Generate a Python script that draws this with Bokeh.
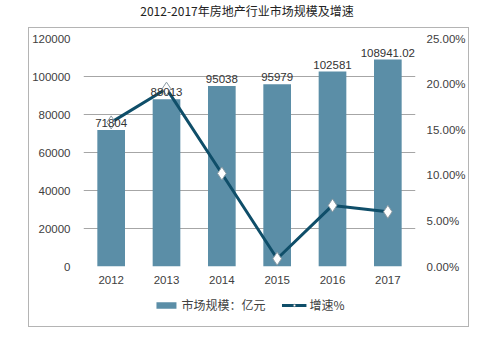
from bokeh.plotting import figure
from bokeh.layouts import column
from bokeh.models import (Range1d, LinearAxis, FixedTicker, NumeralTickFormatter,
                          ColumnDataSource, LabelSet, Legend, LegendItem, Div)
from bokeh.core.properties import value
from bokeh.embed import file_html
from bokeh.resources import INLINE

years = ["2012", "2013", "2014", "2015", "2016", "2017"]
market = [71804, 88013, 95038, 95979, 102581, 108941.02]
market_labels = ["71804", "88013", "95038", "95979", "102581", "108941.02"]
growth = [0.158, 0.195, 0.102, 0.0085, 0.067, 0.060]
left_ticks = [0, 20000, 40000, 60000, 80000, 100000, 120000]
right_ticks = [0.0, 0.05, 0.10, 0.15, 0.20, 0.25]
title_text = "2012-2017年房地产行业市场规模及增速"
bar_name = "市场规模：亿元"
line_name = "增速%"

BAR = "#5b8ea7"
LINE = "#0f4e69"
MK_EDGE = "#8a9aa3"
NUM = "Liberation Sans"
CJK = "Noto Sans CJK SC"
FS = "11.5px"

src = ColumnDataSource(dict(x=years, v=market, lab=market_labels, g=growth))

p = figure(x_range=years, y_range=Range1d(0, 120000), width=439, height=266,
           output_backend="svg", toolbar_location=None,
           min_border_left=53, min_border_right=53, min_border_top=10, min_border_bottom=28)
p.extra_y_ranges = {"pct": Range1d(0, 0.25)}
p.outline_line_color = None
p.xgrid.grid_line_color = None
p.ygrid.grid_line_color = "#a6a6a6"
p.ygrid.grid_line_width = 1

la = p.yaxis[0]
la.ticker = FixedTicker(ticks=left_ticks)
la.formatter = NumeralTickFormatter(format="0")
la.axis_line_color = None
la.major_tick_line_color = None
la.minor_tick_line_color = None
la.major_label_standoff = 7
la.major_label_text_font = NUM
la.major_label_text_font_size = FS
la.major_label_text_color = "#404040"

ra = LinearAxis(y_range_name="pct", ticker=FixedTicker(ticks=right_ticks),
                formatter=NumeralTickFormatter(format="0.00%"))
ra.axis_line_color = None
ra.major_tick_line_color = None
ra.minor_tick_line_color = None
ra.major_label_standoff = 5
ra.major_label_text_font = NUM
ra.major_label_text_font_size = FS
ra.major_label_text_color = "#404040"
p.add_layout(ra, "right")

xa = p.xaxis[0]
xa.axis_line_color = None
xa.major_tick_line_color = None
xa.minor_tick_line_color = None
xa.major_label_standoff = 3
xa.major_label_text_font = NUM
xa.major_label_text_font_size = FS
xa.major_label_text_color = "#404040"

p.vbar(x="x", top="v", width=0.5, source=src, fill_color=BAR, line_color=None)

labels = LabelSet(x="x", y="v", text="lab", source=src, text_align="center",
                  text_baseline="bottom", y_offset=3, text_font=value(NUM),
                  text_font_size=FS, text_color="#333333")
p.add_layout(labels)

p.line(x="x", y="g", source=src, y_range_name="pct", line_color=LINE, line_width=3)
p.scatter(x="x", y="g", source=src, y_range_name="pct", marker="diamond", size=13,
          fill_color="white", line_color=MK_EDGE, line_width=1)

# legend strip (its own small plot, so it can sit below the axis);
# its sample glyphs sit outside its visible range, only the legend shows
lf = figure(width=439, height=32, x_range=Range1d(0, 1), y_range=Range1d(0, 1),
            output_backend="svg", toolbar_location=None,
            x_axis_location=None, y_axis_location=None, min_border=0)
lf.outline_line_color = None
lf.xgrid.visible = False
lf.ygrid.visible = False
d_bar = lf.vbar(x=[-10], top=[-10], width=0.5, fill_color=BAR, line_color=None)
d_line = lf.line(x=[-10, -9], y=[-10, -10], line_color=LINE, line_width=3)
d_mk = lf.scatter(x=[-10], y=[-10], marker="diamond", size=9, fill_color="white",
                  line_color=MK_EDGE, line_width=1)

legend = Legend(items=[LegendItem(label=bar_name, renderers=[d_bar]),
                       LegendItem(label=line_name, renderers=[d_line, d_mk])],
                orientation="horizontal", location="top_center",
                label_text_font=CJK, label_text_font_size="12px",
                label_text_color="#404040", glyph_width=25, glyph_height=8,
                label_standoff=3, spacing=16, padding=2, margin=2,
                border_line_color=None, background_fill_alpha=0)
lf.add_layout(legend)

inner = column(p, lf, spacing=0, margin=(0, 0, 0, 28),
               styles={"border": "1px solid #b4b4b4"})

title = Div(text=title_text, width=484, height=17,
            styles={"font-family": CJK, "font-size": "12px", "color": "#222222",
                    "text-align": "center", "line-height": "12px", "width": "484px"})

layout = column(title, inner, spacing=0)

open("out.html", "w").write(file_html(layout, INLINE))
